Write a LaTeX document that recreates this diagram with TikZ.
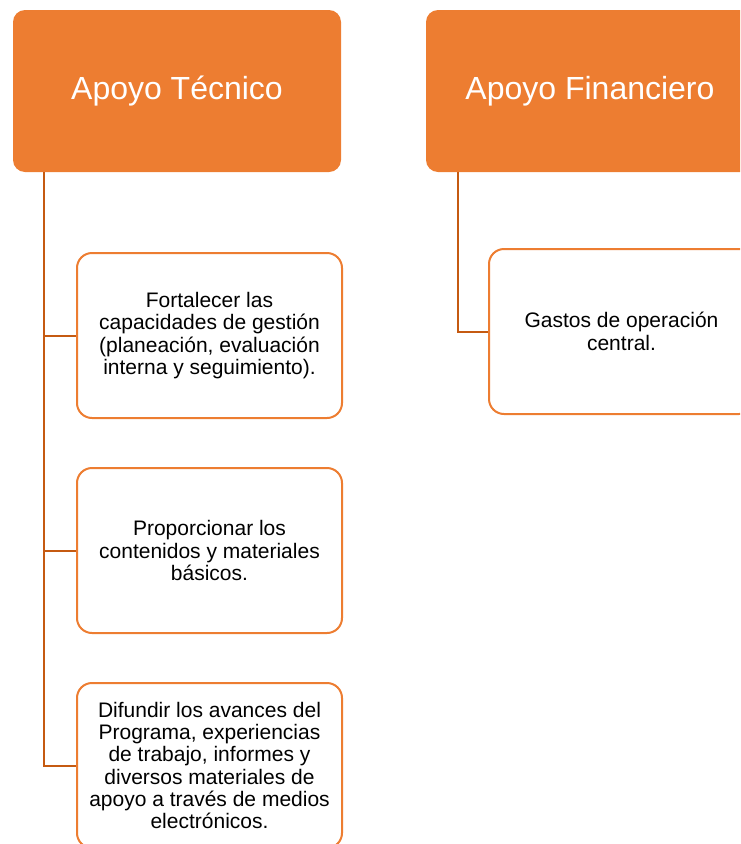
\documentclass[tikz,border=0pt]{standalone}
\usepackage{fontspec}
\setmainfont{Liberation Sans}
\usepackage{tikz}
\usetikzlibrary{calc}
\definecolor{naranja}{HTML}{ED7D31}
\definecolor{cafe}{HTML}{C55A11}

\begin{document}
\begin{tikzpicture}[x=1pt,y=-1pt,
	titulo/.style={fill=naranja,rounded corners=12pt,minimum width=328pt,minimum height=162pt,text=white,font=\fontsize{32}{38}\selectfont},
	caja/.style={draw=naranja,line width=2pt,fill=white,rounded corners=15pt,minimum width=265pt,minimum height=165pt,align=center,font=\fontsize{21}{22.3}\selectfont},
	lien/.style={draw=cafe,line width=2pt}]
\clip (0,0) rectangle (740,844);
\begin{scope} %columna de izquierda
	\node[titulo] (T) at (177,91) {Apoyo Técnico};
	\node[caja] (T1) at (209.5,335.5) {Fortalecer las\\capacidades de gestión\\(planeación, evaluación\\interna y seguimiento).};
	\node[caja] (T2) at (209.5,550.5) {Proporcionar los\\contenidos y materiales\\básicos.};
	\node[caja] (T3) at (209.5,765.5) {Difundir los avances del\\Programa, experiencias\\de trabajo, informes y\\diversos materiales de\\apoyo a través de medios\\electrónicos.};
	\coordinate (TA) at ($(T.south west)+(31,0)$);
	\draw[lien] (TA) |- (T1.west);
	\draw[lien] (TA) |- (T2.west);
	\draw[lien] (TA) |- (T3.west);
\end{scope}
\begin{scope} %columna de derecha
	\node[titulo] (F) at (590,91) {Apoyo Financiero};
	\node[caja] (F1) at (621.5,331.5) {Gastos de operación\\central.};
	\coordinate (FA) at ($(F.south west)+(32,0)$);
	\draw[lien] (FA) |- (F1.west);
\end{scope}
\end{tikzpicture}
\end{document}
